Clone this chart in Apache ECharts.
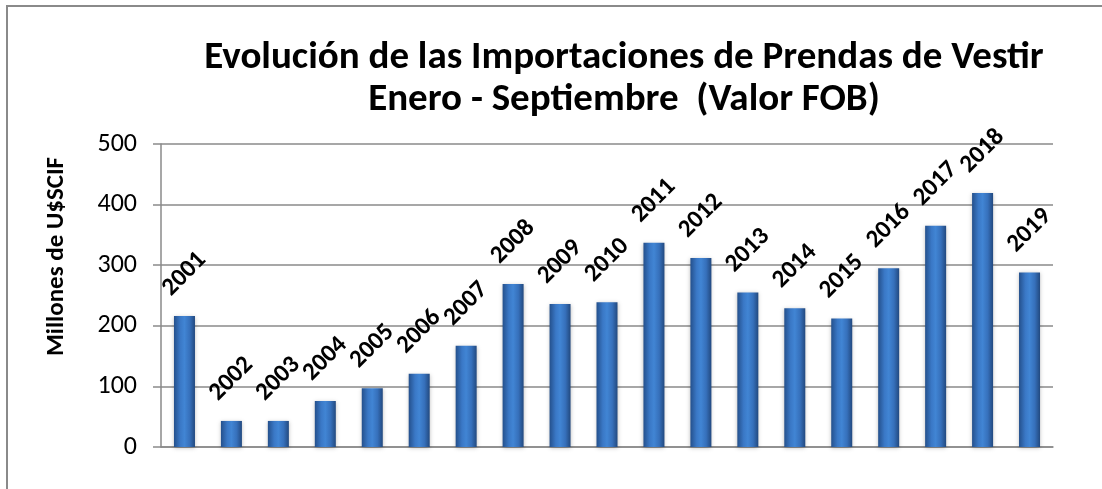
<!DOCTYPE html>
<html>
<head>
<meta charset="utf-8">
<script src="https://cdn.jsdelivr.net/npm/echarts@6/dist/echarts.min.js"></script>
<style>
  html, body { margin: 0; padding: 0; background: #fff; }
  #chart { width: 1102px; height: 489px; }
</style>
</head>
<body>
<div id="chart"></div>
<script>
  // años (categorías) y valores en millones
  var years = ['2001','2002','2003','2004','2005','2006','2007','2008','2009','2010',
               '2011','2012','2013','2014','2015','2016','2017','2018','2019']
  var values = [216, 43, 43, 76, 97, 121, 167, 269, 236, 239,
                337, 312, 255, 229, 212, 295, 365, 419, 288]
  var yTicks = [0, 100, 200, 300, 400, 500]

  var font = 'Carlito, Lato, sans-serif'
  var chart = echarts.init(document.getElementById('chart'))

  chart.setOption({
    backgroundColor: '#fff',
    animation: false,
    title: {
      text: 'Evolución de las Importaciones de Prendas de Vestir\nEnero - Septiembre  (Valor FOB)',
      left: 624,
      top: 37,
      padding: 0,
      textAlign: 'center',
      textStyle: {
        fontFamily: font,
        fontSize: 39,
        fontWeight: 'bold',
        color: '#000',
        lineHeight: 42
      }
    },
    graphic: [
      {
        type: 'rect',
        shape: { x: 7, y: 6, width: 1200, height: 600 },
        style: { fill: 'none', stroke: '#8a8a8a', lineWidth: 2 },
        silent: true
      }
    ],
    grid: {
      left: 161,
      right: 49,
      top: 144,
      bottom: 42
    },
    xAxis: {
      type: 'category',
      data: years,
      axisLine: { lineStyle: { color: '#8a8a8a', width: 1.5 } },
      axisTick: { show: false },
      axisLabel: { show: false }
    },
    yAxis: {
      type: 'value',
      min: yTicks[0],
      max: yTicks[yTicks.length - 1],
      interval: 100,
      name: 'Millones de U$SCIF',
      nameLocation: 'middle',
      nameRotate: 90,
      nameGap: 92,
      nameTextStyle: {
        fontFamily: font,
        fontSize: 25,
        fontWeight: 'bold',
        color: '#000',
        padding: [0, 0, 0, 78]
      },
      axisLine: { show: true, lineStyle: { color: '#8a8a8a', width: 1.5 } },
      axisTick: { show: true, length: 8, lineStyle: { color: '#8a8a8a', width: 1.5 } },
      axisLabel: {
        margin: 24,
        fontFamily: font,
        fontSize: 26,
        color: '#000'
      },
      splitLine: { lineStyle: { color: '#8a8a8a', width: 1.5 } }
    },
    series: [
      {
        name: 'Importaciones',
        type: 'bar',
        data: values,
        barWidth: 21,
        itemStyle: {
          color: {
            type: 'linear', x: 0, y: 0, x2: 1, y2: 0,
            colorStops: [
              { offset: 0, color: '#24508c' },
              { offset: 0.3, color: '#3a78c6' },
              { offset: 0.5, color: '#4185d4' },
              { offset: 0.75, color: '#3670bb' },
              { offset: 1, color: '#22497f' }
            ]
          },
          shadowColor: 'rgba(0,0,0,0.25)',
          shadowBlur: 4,
          shadowOffsetY: 1
        },
        label: {
          show: true,
          formatter: '{b}',
          position: 'top',
          distance: 42,
          rotate: 45,
          align: 'center',
          verticalAlign: 'middle',
          fontFamily: font,
          fontSize: 25,
          fontWeight: 'bold',
          color: '#000'
        }
      }
    ]
  })
</script>
</body>
</html>
